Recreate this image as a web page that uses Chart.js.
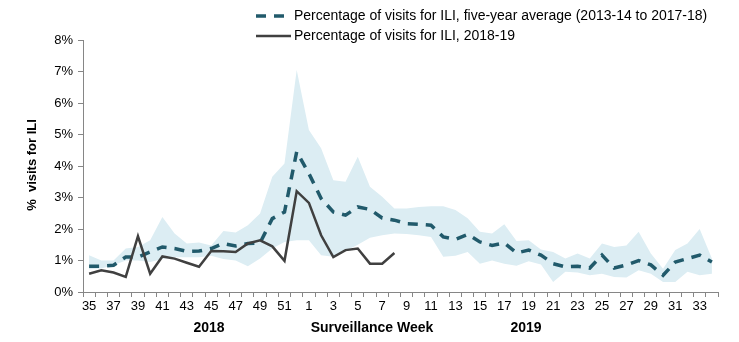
<!DOCTYPE html>
<html>
<head>
<meta charset="utf-8">
<script src="https://cdn.jsdelivr.net/npm/chart.js@4.4.0/dist/chart.umd.min.js"></script>
<style>
  html, body { margin: 0; padding: 0; background: #fff; }
  #wrap { width: 739px; height: 342px; }
</style>
</head>
<body>
<div id="wrap"><canvas id="iliChart" width="739" height="342"></canvas></div>
<script>
// surveillance weeks, 2018 wk35 through 2019 wk34
const weeks = [35, 36, 37, 38, 39, 40, 41, 42, 43, 44, 45, 46, 47, 48, 49, 50, 51, 52,
  1, 2, 3, 4, 5, 6, 7, 8, 9, 10, 11, 12, 13, 14, 15, 16, 17, 18, 19, 20,
  21, 22, 23, 24, 25, 26, 27, 28, 29, 30, 31, 32, 33, 34];

// five-year average (2013-14 to 2017-18)
const avgPct = [0.82, 0.82, 0.85, 1.11, 1.11, 1.27, 1.43, 1.38, 1.29, 1.30, 1.38, 1.54, 1.46, 1.54, 1.56, 2.33, 2.54, 4.45,
  3.76, 2.97, 2.54, 2.44, 2.70, 2.62, 2.35, 2.28, 2.17, 2.15, 2.12, 1.75, 1.67, 1.83, 1.59, 1.48,
  1.56, 1.24, 1.33, 1.17, 0.90, 0.80, 0.82, 0.76, 1.17, 0.76, 0.86, 1.00, 0.86, 0.53, 0.95, 1.06, 1.17, 0.95];

// range of the five seasons (shaded band)
const bandHigh = [1.17, 1.00, 1.00, 1.38, 1.43, 1.64, 2.38, 1.86, 1.54, 1.57, 1.48, 1.94, 1.89, 2.12, 2.49, 3.66, 4.08, 7.05,
  5.14, 4.56, 3.55, 3.50, 4.29, 3.34, 3.02, 2.65, 2.65, 2.70, 2.72, 2.72, 2.60, 2.34, 1.91, 1.86,
  2.15, 1.62, 1.64, 1.35, 1.27, 1.06, 1.22, 1.06, 1.54, 1.43, 1.48, 1.91, 1.22, 0.74, 1.33, 1.54, 2.00, 1.06];
const bandLow = [0.72, 0.75, 0.85, 1.00, 1.00, 0.95, 1.05, 1.10, 1.10, 1.10, 1.15, 1.05, 1.00, 0.82, 1.06, 1.38, 1.59, 1.64,
  1.64, 1.17, 1.12, 1.30, 1.50, 1.72, 1.80, 1.86, 1.84, 1.80, 1.75, 1.12, 1.15, 1.27, 0.90, 1.00,
  0.90, 0.83, 0.98, 0.87, 0.32, 0.64, 0.62, 0.53, 0.58, 0.48, 0.46, 0.69, 0.58, 0.32, 0.32, 0.64, 0.53, 0.58];

// current season 2018-19 (through week 8)
const season1819 = [0.58, 0.69, 0.62, 0.48, 1.77, 0.58, 1.13, 1.06, 0.93, 0.80, 1.30, 1.29, 1.27, 1.54, 1.64, 1.45, 0.99, 3.20,
  2.83, 1.80, 1.11, 1.33, 1.38, 0.90, 0.90, 1.24];

const yTicks = [0, 1, 2, 3, 4, 5, 6, 7, 8];

const AVG_COLOR = '#215a6b';
const CUR_COLOR = '#404040';
const BAND_COLOR = '#dcedf3';
const AXIS_COLOR = '#868686';
const FONT = 'Arial, "Liberation Sans", sans-serif';

Chart.defaults.font.family = FONT;
Chart.defaults.font.size = 13;
Chart.defaults.color = '#000';

// legend + extra axis captions
const annotations = {
  id: 'annotations',
  afterDraw(chart) {
    const ctx = chart.ctx;
    ctx.save();
    ctx.font = '14px ' + FONT;
    ctx.fillStyle = '#000';
    ctx.textBaseline = 'middle';
    ctx.textAlign = 'left';

    ctx.strokeStyle = AVG_COLOR;
    ctx.lineWidth = 3.5;
    ctx.setLineDash([10, 8]);
    ctx.beginPath();
    ctx.moveTo(256, 16);
    ctx.lineTo(289, 16);
    ctx.stroke();
    ctx.fillText('Percentage of visits for ILI, five-year average (2013-14 to 2017-18)', 294, 16);

    ctx.setLineDash([]);
    ctx.strokeStyle = CUR_COLOR;
    ctx.lineWidth = 2.5;
    ctx.beginPath();
    ctx.moveTo(256, 36);
    ctx.lineTo(291, 36);
    ctx.stroke();
    ctx.fillText('Percentage of visits for ILI, 2018-19', 294, 36);

    ctx.font = 'bold 14px ' + FONT;
    ctx.textAlign = 'center';
    ctx.fillText('2018', 209, 328);
    ctx.fillText('Surveillance Week', 372, 328);
    ctx.fillText('2019', 526, 328);

    ctx.font = 'bold 13px ' + FONT;
    ctx.translate(32, 165);
    ctx.rotate(-Math.PI / 2);
    ctx.fillText('%  visits for ILI', 0, 0);
    ctx.restore();
  }
};

new Chart(document.getElementById('iliChart').getContext('2d'), {
  type: 'line',
  data: {
    labels: weeks,
    datasets: [
      {
        label: 'Percentage of visits for ILI, 2018-19',
        data: season1819,
        borderColor: CUR_COLOR,
        borderWidth: 2.5,
        pointRadius: 0,
        tension: 0,
        fill: false,
        order: 1
      },
      {
        label: 'Percentage of visits for ILI, five-year average (2013-14 to 2017-18)',
        data: avgPct,
        borderColor: AVG_COLOR,
        borderWidth: 3.5,
        borderDash: [10, 8],
        pointRadius: 0,
        tension: 0,
        fill: false,
        order: 2
      },
      {
        label: 'high',
        data: bandHigh,
        borderWidth: 0,
        borderColor: 'rgba(0,0,0,0)',
        backgroundColor: BAND_COLOR,
        pointRadius: 0,
        fill: '+1',
        order: 3
      },
      {
        label: 'low',
        data: bandLow,
        borderWidth: 0,
        borderColor: 'rgba(0,0,0,0)',
        pointRadius: 0,
        fill: false,
        order: 4
      }
    ]
  },
  options: {
    responsive: false,
    animation: false,
    layout: { padding: { top: 40, right: 21, bottom: 0, left: 0 } },
    plugins: {
      legend: { display: false },
      tooltip: { enabled: false }
    },
    scales: {
      x: {
        type: 'category',
        offset: true,
        grid: {
          offset: true,
          drawOnChartArea: false,
          drawTicks: true,
          tickLength: 5,
          color: AXIS_COLOR
        },
        border: { display: true, color: AXIS_COLOR, width: 1 },
        ticks: {
          autoSkip: false,
          maxRotation: 0,
          padding: 2,
          font: { size: 13 },
          callback: function (value, index) {
            return index % 2 === 0 ? String(weeks[index]) : '';
          }
        },
        afterFit(scale) { scale.height = 50; }
      },
      y: {
        min: 0,
        max: 8,
        afterBuildTicks(scale) {
          scale.ticks = yTicks.map(v => ({ value: v }));
        },
        grid: {
          drawOnChartArea: false,
          drawTicks: true,
          tickLength: 5,
          color: AXIS_COLOR
        },
        border: { display: true, color: AXIS_COLOR, width: 1 },
        ticks: {
          padding: 5,
          font: { size: 13 },
          callback: v => v + '%'
        },
        afterFit(scale) { scale.width = 83; }
      }
    }
  },
  plugins: [annotations]
});
</script>
</body>
</html>
